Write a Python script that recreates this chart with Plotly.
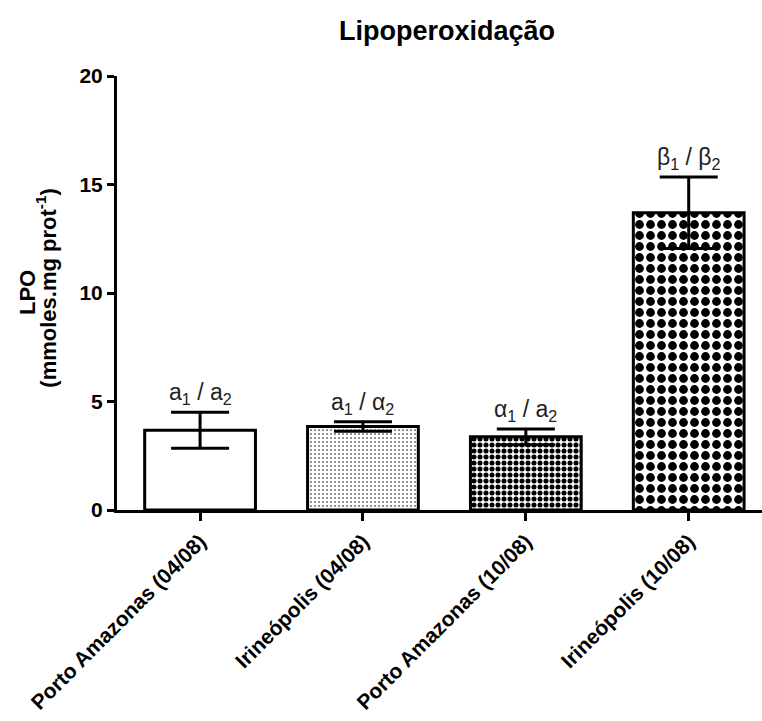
import plotly.graph_objects as go

categories = ["Porto Amazonas (04/08)", "Irineópolis (04/08)", "Porto Amazonas (10/08)", "Irineópolis (10/08)"]
means = [3.68, 3.85, 3.37, 13.7]
errors = [0.83, 0.22, 0.36, 1.65]
sig_labels = ["a<sub>1</sub> / a<sub>2</sub>", "a<sub>1</sub> / α<sub>2</sub>",
              "α<sub>1</sub> / a<sub>2</sub>", "β<sub>1</sub> / β<sub>2</sub>"]
y_ticks = [0, 5, 10, 15, 20]

FONT = "Arial, Liberation Sans, sans-serif"

pattern_shapes = ["", ".", ".", "."]
pattern_sizes = [8, 4, 6, 11]
pattern_solid = [0.1, 0.12, 0.55, 0.5]

fig = go.Figure()
fig.add_trace(go.Bar(
    x=list(range(len(categories))),
    y=means,
    width=0.68,
    marker=dict(
        color="white",
        line=dict(color="black", width=3),
        pattern=dict(shape=pattern_shapes, size=pattern_sizes, solidity=pattern_solid,
                     fgcolor="black", bgcolor="white", fillmode="replace"),
    ),
    error_y=dict(type="data", array=errors, visible=True, color="black", thickness=3, width=29),
    showlegend=False,
))

for i, (m, e, lab) in enumerate(zip(means, errors, sig_labels)):
    fig.add_annotation(x=i, y=m + e, text=lab, showarrow=False, yanchor="bottom",
                       yshift=2, font=dict(family=FONT, size=23, color="#222"))

# y-axis title (two tight lines as in the reference)
fig.add_annotation(xref="paper", x=0, xshift=-90, yref="y", y=10, text="<b>LPO</b>",
                   textangle=-90, showarrow=False, xanchor="center", yanchor="middle",
                   font=dict(family=FONT, size=22, color="black"))
fig.add_annotation(xref="paper", x=0, xshift=-71, yref="y", y=10.2,
                   text="<b>(mmoles.mg prot<sup>-1</sup>)</b>",
                   textangle=-90, showarrow=False, xanchor="center", yanchor="middle",
                   font=dict(family=FONT, size=22, color="black"))

fig.update_layout(
    width=762, height=721,
    margin=dict(l=117, r=0, t=76, b=211),
    plot_bgcolor="white", paper_bgcolor="white",
    title=dict(text="<b>Lipoperoxidação</b>", x=447 / 762, xanchor="center", y=1 - 31 / 721, yanchor="middle",
               font=dict(family=FONT, size=27, color="black")),
    font=dict(family=FONT, color="black"),
    xaxis=dict(
        range=[-0.51, 3.45],
        tickmode="array", tickvals=list(range(len(categories))),
        ticktext=["<b>" + c + "</b>" for c in categories],
        tickangle=-45, ticks="outside", ticklen=8, tickwidth=2.5, tickcolor="black",
        showline=True, linecolor="black", linewidth=3, showgrid=False, zeroline=False,
        tickfont=dict(family=FONT, size=21, color="black"),
    ),
    yaxis=dict(
        range=[0, 20], tickmode="array", tickvals=y_ticks,
        ticktext=["<b>%d</b>" % t for t in y_ticks],
        ticks="outside", ticklen=7, tickwidth=2.5, tickcolor="black",
        showline=True, linecolor="black", linewidth=3, showgrid=False, zeroline=False,
        tickfont=dict(family=FONT, size=21, color="black"),
    ),
)

fig.write_html("out.html")
